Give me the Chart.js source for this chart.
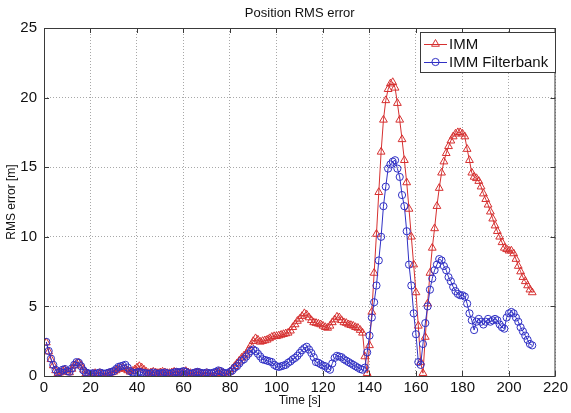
<!DOCTYPE html>
<html>
<head>
<meta charset="utf-8">
<title>Position RMS error</title>
<script src="https://cdn.jsdelivr.net/npm/chart.js@4.4.1/dist/chart.umd.min.js"></script>
<style>
  html, body { margin: 0; padding: 0; background: #fff; }
  #wrap { width: 571px; height: 413px; }
</style>
</head>
<body>
<div id="wrap"><canvas id="rmsChart" width="571" height="413"></canvas></div>
<script>
// sample time axis: one sample per second starting at t = 1 s
const tStart = 1;
const tStep = 1;

// RMS position error [m], IMM
const imm = [
  2.4, 1.75, 1.2, 0.75, 0.4, 0.2, 0.25, 0.35, 0.45, 0.3,
  0.25, 0.5, 0.75, 0.9, 0.95, 0.75, 0.45, 0.2, 0.15, 0.1,
  0.15, 0.2, 0.15, 0.2, 0.15, 0.1, 0.15, 0.2, 0.25, 0.3,
  0.4, 0.5, 0.55, 0.6, 0.5, 0.4, 0.3, 0.35, 0.45, 0.6,
  0.7, 0.6, 0.45, 0.3, 0.2, 0.25, 0.3, 0.25, 0.2, 0.25,
  0.3, 0.25, 0.2, 0.2, 0.25, 0.3, 0.25, 0.2, 0.25, 0.3,
  0.35, 0.25, 0.2, 0.15, 0.2, 0.25, 0.2, 0.15, 0.15, 0.2,
  0.15, 0.1, 0.15, 0.2, 0.3, 0.3, 0.2, 0.1, 0.1, 0.3,
  0.5, 0.7, 0.9, 1.1, 1.3, 1.45, 1.6, 1.9, 2.2, 2.5,
  2.7, 2.6, 2.45, 2.5, 2.55, 2.6, 2.7, 2.8, 2.85, 2.85,
  2.9, 2.95, 3.0, 3.05, 3.1, 3.25, 3.5, 3.7, 3.95, 4.1,
  4.3, 4.5, 4.4, 4.2, 4.0, 3.85, 3.8, 3.75, 3.7, 3.6,
  3.5, 3.45, 3.6, 3.85, 4.05, 4.25, 4.2, 4.0, 3.85, 3.8,
  3.7, 3.65, 3.6, 3.5, 3.45, 3.3, 3.1, 1.4, 0.2, 2.2,
  4.6, 7.4, 10.2, 13.2, 16.1, 18.4, 19.8, 20.6, 21.0, 21.1,
  20.7, 19.6, 18.4, 17.0, 15.5, 13.9, 12.0, 10.0, 8.0, 6.0,
  3.6, 1.0, 0.2, 2.8, 5.2, 7.4, 9.2, 10.6, 12.2, 13.5,
  14.6, 15.4, 16.0, 16.5, 16.9, 17.2, 17.4, 17.5, 17.5, 17.4,
  17.2, 16.3, 15.5, 14.6, 14.3, 14.2, 14.0, 13.6, 13.1, 12.7,
  12.3, 11.8, 11.3, 10.8, 10.4, 10.0, 9.6, 9.2, 9.1, 9.0,
  9.0, 8.8, 8.4, 7.9, 7.5, 7.1, 6.8, 6.5, 6.2, 6.0
];

// RMS position error [m], IMM filter bank
const immFilterbank = [
  2.45, 1.8, 1.25, 0.8, 0.45, 0.25, 0.3, 0.45, 0.5, 0.35,
  0.3, 0.55, 0.8, 1.0, 0.95, 0.7, 0.4, 0.25, 0.2, 0.15,
  0.2, 0.15, 0.2, 0.25, 0.2, 0.15, 0.2, 0.25, 0.3, 0.35,
  0.5, 0.65, 0.7, 0.75, 0.8, 0.6, 0.35, 0.25, 0.2, 0.25,
  0.3, 0.25, 0.2, 0.2, 0.15, 0.2, 0.25, 0.2, 0.15, 0.2,
  0.2, 0.25, 0.2, 0.15, 0.2, 0.25, 0.3, 0.25, 0.3, 0.35,
  0.3, 0.2, 0.15, 0.2, 0.25, 0.3, 0.25, 0.2, 0.2, 0.25,
  0.2, 0.2, 0.25, 0.3, 0.4, 0.35, 0.25, 0.2, 0.2, 0.3,
  0.4, 0.6, 0.7, 0.9, 1.1, 1.2, 1.4, 1.6, 1.8, 1.9,
  1.8, 1.6, 1.4, 1.2, 1.15, 1.1, 1.05, 1.0, 0.8, 0.7,
  0.65, 0.7, 0.75, 0.8, 0.95, 1.05, 1.2, 1.3, 1.45, 1.65,
  1.85, 2.0, 2.1, 1.9, 1.65, 1.35, 1.0, 0.95, 0.85, 0.75,
  0.7, 0.55, 0.45, 0.9, 1.3, 1.45, 1.4, 1.35, 1.2, 1.1,
  1.0, 0.9, 0.8, 0.7, 0.6, 0.5, 0.45, 0.6, 1.7, 2.9,
  4.2, 5.3, 6.5, 8.3, 10.0, 12.2, 13.6, 14.9, 15.2, 15.4,
  15.5, 14.9, 14.3, 13.0, 12.2, 10.4, 8.0, 6.5, 4.5, 3.0,
  1.0, 0.8, 2.3, 3.8, 5.0, 6.2, 7.0, 7.6, 8.0, 8.4,
  8.3, 7.9, 7.6, 7.1, 6.8, 6.4, 6.1, 5.9, 5.8, 5.8,
  5.7, 5.2, 4.5, 4.0, 3.3, 3.9, 4.1, 3.9, 3.7, 3.9,
  4.1, 3.9, 4.0, 4.1, 4.0, 3.7, 3.5, 3.4, 4.2, 4.5,
  4.6, 4.5, 4.2, 3.9, 3.5, 3.2, 2.9, 2.6, 2.3, 2.2
];

const xTicks = [0, 20, 40, 60, 80, 100, 120, 140, 160, 180, 200, 220];
const yTicks = [0, 5, 10, 15, 20, 25];

const seriesNames = ['IMM', 'IMM Filterbank'];
const redColor = 'rgb(214, 48, 48)';
const blueColor = 'rgb(48, 48, 196)';
const FONT = 'Liberation Sans, Arial, Helvetica, sans-serif';

function toPoints(values) {
  return values.map((v, i) => ({ x: tStart + i * tStep, y: v }));
}

// 标题、边框、内向刻度、图例（Matlab 风格）
const matlabFrame = {
  id: 'matlabFrame',
  afterDatasetsDraw(chart) {
    const { ctx, chartArea: a, scales } = chart;
    ctx.save();

    // 坐标框
    ctx.strokeStyle = '#3a3a3a';
    ctx.lineWidth = 1;
    ctx.strokeRect(a.left + 0.5, a.top + 0.5, a.right - a.left - 1, a.bottom - a.top);

    // 内向刻度
    ctx.beginPath();
    xTicks.forEach(v => {
      const px = Math.round(scales.x.getPixelForValue(v)) + 0.5;
      ctx.moveTo(px, a.bottom); ctx.lineTo(px, a.bottom - 5);
      ctx.moveTo(px, a.top); ctx.lineTo(px, a.top + 5);
    });
    yTicks.forEach(v => {
      const py = Math.round(scales.y.getPixelForValue(v)) + 0.5;
      ctx.moveTo(a.left, py); ctx.lineTo(a.left + 5, py);
      ctx.moveTo(a.right, py); ctx.lineTo(a.right - 5, py);
    });
    ctx.stroke();

    // 图例
    const lx = 420, ly = 32, lw = 135, lh = 40;
    ctx.fillStyle = '#fff';
    ctx.fillRect(lx, ly, lw, lh);
    ctx.strokeStyle = '#3a3a3a';
    ctx.strokeRect(lx + 0.5, ly + 0.5, lw, lh);
    ctx.font = '15px ' + FONT;
    ctx.textBaseline = 'middle';
    chart.data.datasets.forEach((ds, i) => {
      const y = ly + 12 + i * 18;
      ctx.strokeStyle = ds.borderColor;
      ctx.lineWidth = 1;
      ctx.beginPath();
      ctx.moveTo(lx + 4, y + 0.5); ctx.lineTo(lx + 27, y + 0.5);
      ctx.stroke();
      const cx = lx + 15.5;
      ctx.beginPath();
      if (ds.pointStyle === 'triangle') {
        const r = ds.pointRadius;
        ctx.moveTo(cx, y - r);
        ctx.lineTo(cx + r * 0.866, y + r * 0.5);
        ctx.lineTo(cx - r * 0.866, y + r * 0.5);
        ctx.closePath();
      } else {
        ctx.arc(cx, y, ds.pointRadius, 0, Math.PI * 2);
      }
      ctx.stroke();
      ctx.fillStyle = '#111';
      ctx.textAlign = 'left';
      ctx.fillText(ds.label, lx + 29, y + 1);
    });

    // 标题
    ctx.fillStyle = '#111';
    ctx.font = '13px ' + FONT;
    ctx.textAlign = 'center';
    ctx.textBaseline = 'middle';
    ctx.fillText('Position RMS error', (a.left + a.right) / 2, 13);

    ctx.restore();
  }
};

const ctx = document.getElementById('rmsChart').getContext('2d');
const rmsChart = new Chart(ctx, {
  type: 'line',
  data: {
    datasets: [
      {
        label: seriesNames[0],
        data: toPoints(imm),
        borderColor: redColor,
        borderWidth: 1,
        pointStyle: 'triangle',
        pointRadius: 4.5,
        pointBorderColor: redColor,
        pointBackgroundColor: 'rgba(0,0,0,0)',
        pointBorderWidth: 1,
        tension: 0,
        order: 1
      },
      {
        label: seriesNames[1],
        data: toPoints(immFilterbank),
        borderColor: blueColor,
        borderWidth: 1,
        pointStyle: 'circle',
        pointRadius: 3.6,
        pointBorderColor: blueColor,
        pointBackgroundColor: 'rgba(0,0,0,0)',
        pointBorderWidth: 1,
        tension: 0,
        order: 0
      }
    ]
  },
  options: {
    responsive: false,
    animation: false,
    devicePixelRatio: 1,
    layout: { padding: { left: 0, right: 13, top: 28, bottom: 0 } },
    plugins: {
      legend: { display: false },
      tooltip: { enabled: false }
    },
    scales: {
      x: {
        type: 'linear',
        min: 0,
        max: 220,
        afterBuildTicks: s => { s.ticks = xTicks.map(v => ({ value: v })); },
        afterFit: s => { s.height = 37; },
        grid: { color: '#a8a8a8', drawTicks: false },
        border: { display: false, dash: [1, 2] },
        ticks: { color: '#111', padding: 3, maxRotation: 0, font: { family: FONT, size: 15 } },
        title: {
          display: true,
          text: 'Time [s]',
          color: '#111',
          font: { family: FONT, size: 12 },
          padding: { top: 0, bottom: 5 }
        }
      },
      y: {
        min: 0,
        max: 25,
        afterBuildTicks: s => { s.ticks = yTicks.map(v => ({ value: v })); },
        afterFit: s => { s.width = 44; },
        grid: { color: '#a8a8a8', drawTicks: false },
        border: { display: false, dash: [1, 2] },
        ticks: { color: '#111', padding: 7, font: { family: FONT, size: 15 } },
        title: {
          display: true,
          text: 'RMS error [m]',
          color: '#111',
          font: { family: FONT, size: 12 },
          padding: { top: 4, bottom: 0 }
        }
      }
    }
  },
  plugins: [matlabFrame]
});
</script>
</body>
</html>
